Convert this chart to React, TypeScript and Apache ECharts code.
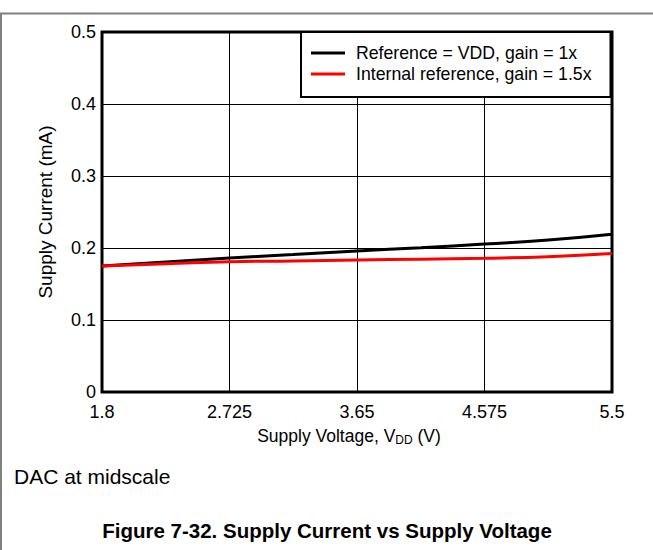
import React, { useEffect, useRef } from "react";
import * as echarts from "echarts";

const voltage = [1.8, 2.2625, 2.725, 3.1875, 3.65, 4.1125, 4.575, 5.0375, 5.5];
const currentRefVdd = [0.175, 0.1805, 0.186, 0.191, 0.196, 0.2005, 0.2055, 0.211, 0.219];
const currentInternal = [0.175, 0.178, 0.181, 0.182, 0.1833, 0.1845, 0.1857, 0.188, 0.1925];
const xTickLabels = ["1.8", "2.725", "3.65", "4.575", "5.5"];
const seriesNames = ["Reference = VDD, gain = 1x", "Internal reference, gain = 1.5x"];

const FONT = "'Liberation Sans', Arial, sans-serif";
const X0 = 1.8;

export default function App() {
  const ref = useRef<HTMLDivElement>(null);
  useEffect(() => {
    if (!ref.current) return;
    const chart = echarts.init(ref.current, null, { renderer: "svg" });
    const toX = (v: number) => Math.round((v - X0) * 1000);
    chart.setOption({
      animation: false,
      backgroundColor: "#ffffff",
      textStyle: { fontFamily: FONT, color: "#000" },
      grid: {
        left: 102,
        top: 32,
        right: 41,
        bottom: 158,
        show: true,
        borderColor: "#000",
        borderWidth: 3,
        backgroundColor: "transparent",
      },
      legend: {
        left: 301,
        top: 32,
        orient: "vertical",
        backgroundColor: "#fff",
        borderColor: "#000",
        borderWidth: 2,
        padding: [11, 19, 13, 10],
        itemGap: 1,
        itemWidth: 34,
        itemHeight: 3,
        icon: "rect",
        selectedMode: false,
        textStyle: { fontFamily: FONT, fontSize: 17.7, color: "#000", lineHeight: 20, padding: [0, 0, 0, 6] },
        data: seriesNames,
      },
      xAxis: {
        type: "value",
        min: 0,
        max: 3700,
        interval: 925,
        axisLine: { show: false },
        axisTick: { show: false },
        splitLine: { show: true, lineStyle: { color: "#000", width: 1 } },
        axisLabel: {
          margin: 11,
          fontSize: 18,
          fontFamily: FONT,
          color: "#000",
          formatter: (_v: number, i: number) => xTickLabels[i] ?? "",
        },
        name: "{a|Supply Voltage, V}{b|DD}{a| (V)}",
        nameLocation: "middle",
        nameGap: 34,
        nameTextStyle: {
          padding: [0, 16, 0, 0],
          rich: {
            a: { fontSize: 17.5, fontFamily: FONT, color: "#000", lineHeight: 20 },
            b: { fontSize: 12, fontFamily: FONT, color: "#000", lineHeight: 11, verticalAlign: "bottom" },
          },
        },
      },
      yAxis: {
        type: "value",
        min: 0,
        max: 0.5,
        interval: 0.1,
        axisLine: { show: false },
        axisTick: { show: false },
        splitLine: { show: true, lineStyle: { color: "#000", width: 1 } },
        axisLabel: { margin: 6, fontSize: 18, fontFamily: FONT, color: "#000" },
        name: "Supply Current (mA)",
        nameLocation: "middle",
        nameGap: 47,
        nameTextStyle: { fontSize: 19, fontFamily: FONT, color: "#000" },
      },
      series: [
        {
          name: seriesNames[0],
          type: "line",
          showSymbol: false,
          smooth: true,
          color: "#000",
          lineStyle: { color: "#000", width: 3 },
          data: voltage.map((v, i) => [toX(v), currentRefVdd[i]]),
        },
        {
          name: seriesNames[1],
          type: "line",
          showSymbol: false,
          smooth: true,
          color: "#ff0000",
          lineStyle: { color: "#ff0000", width: 3 },
          data: voltage.map((v, i) => [toX(v), currentInternal[i]]),
        },
      ],
      graphic: [
        { type: "line", shape: { x1: 0, y1: 13.5, x2: 653, y2: 13.5 }, style: { stroke: "#808080", lineWidth: 2 } },
        { type: "line", shape: { x1: 1, y1: 13.5, x2: 1, y2: 550 }, style: { stroke: "#808080", lineWidth: 2 } },
        {
          type: "text",
          x: 14,
          y: 476,
          style: { text: "DAC at midscale", fontFamily: FONT, fontSize: 21, fill: "#000", verticalAlign: "middle" },
        },
        {
          type: "text",
          x: 327,
          y: 530,
          style: {
            text: "Figure 7-32. Supply Current vs Supply Voltage",
            fontFamily: FONT,
            fontWeight: "bold",
            fontSize: 20.5,
            fill: "#000",
            align: "center",
            verticalAlign: "middle",
          },
        },
      ],
    });
    return () => chart.dispose();
  }, []);
  return <div ref={ref} style={{ position: "absolute", left: 0, top: 0, width: 653, height: 550 }} />;
}
